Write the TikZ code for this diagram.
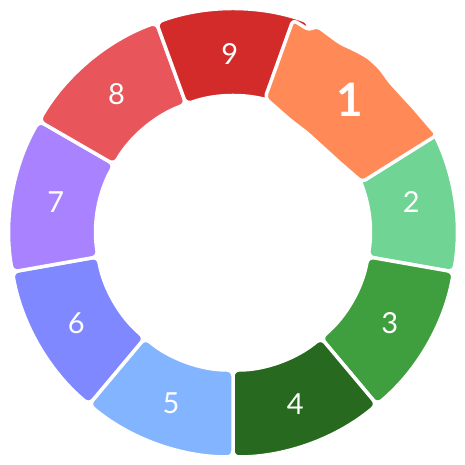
\documentclass[tikz,border=0pt]{standalone}
\usepackage{fontspec}
\setmainfont{Lato}

\definecolor{segone}{HTML}{FF8A57}
\definecolor{segtwo}{HTML}{6FD494}
\definecolor{segthree}{HTML}{3F9F3F}
\definecolor{segfour}{HTML}{27691F}
\definecolor{segfive}{HTML}{82B4FF}
\definecolor{segsix}{HTML}{8088FF}
\definecolor{segseven}{HTML}{A983FF}
\definecolor{segeight}{HTML}{E8555A}
\definecolor{segnine}{HTML}{D32A2A}

\begin{document}
\begin{tikzpicture}[
      x=1pt, y=1pt,
      seg/.style={draw=white, line width=3.5pt, rounded corners=6pt, line join=round},
      num/.style={text=white, font=\fontsize{29}{29}\selectfont},
      bignum/.style={text=white, font=\fontsize{46}{46}\selectfont\bfseries}
    ]

    \path[use as bounding box] (-233,-232) rectangle (232,233);

    % Ring segments
    \draw[seg, fill=segtwo] (-10:224) arc[start angle=-10, end angle=30, radius=224]
      -- (30:137) arc[start angle=30, end angle=-10, radius=137] -- cycle;
    \draw[seg, fill=segthree] (-50:224) arc[start angle=-50, end angle=-10, radius=224]
      -- (-10:137) arc[start angle=-10, end angle=-50, radius=137] -- cycle;
    \draw[seg, fill=segfour] (-90:224) arc[start angle=-90, end angle=-50, radius=224]
      -- (-50:137) arc[start angle=-50, end angle=-90, radius=137] -- cycle;
    \draw[seg, fill=segfive] (-130:224) arc[start angle=-130, end angle=-90, radius=224]
      -- (-90:137) arc[start angle=-90, end angle=-130, radius=137] -- cycle;
    \draw[seg, fill=segsix] (-170:224) arc[start angle=-170, end angle=-130, radius=224]
      -- (-130:137) arc[start angle=-130, end angle=-170, radius=137] -- cycle;
    \draw[seg, fill=segseven] (150:224) arc[start angle=150, end angle=190, radius=224]
      -- (190:137) arc[start angle=190, end angle=150, radius=137] -- cycle;
    \draw[seg, fill=segeight] (110:224) arc[start angle=110, end angle=150, radius=224]
      -- (150:137) arc[start angle=150, end angle=110, radius=137] -- cycle;
    \draw[seg, fill=segnine] (70:224) arc[start angle=70, end angle=110, radius=224]
      -- (110:137) arc[start angle=110, end angle=70, radius=137] -- cycle;

    % Segment 1, pulled out on top
    \draw[seg, rounded corners=4pt, fill=segone]
      (60,213) -- (76,203) -- (84,207) -- (107,190) -- (122,183) -- (135,176)
      -- (147,165) -- (157,151) -- (167,140) -- (180,126) -- (204,98)
      -- (129,51) -- (107,70) -- (74,100) -- (57,113) -- (32,135) -- cycle;

    % Numbers
    \node[bignum] (n1) at (117,133) {1};
    \node[num] (n2) at (10:181) {2};
    \node[num] (n3) at (-30:181) {3};
    \node[num] (n4) at (-70:182) {4};
    \node[num] (n5) at (-110:181) {5};
    \node[num] (n6) at (-150:181) {6};
    \node[num] (n7) at (170:180) {7};
    \node[num] (n8) at (130:181) {8};
    \node[num] (n9) at (91:179) {9};

  \end{tikzpicture}
\end{document}
